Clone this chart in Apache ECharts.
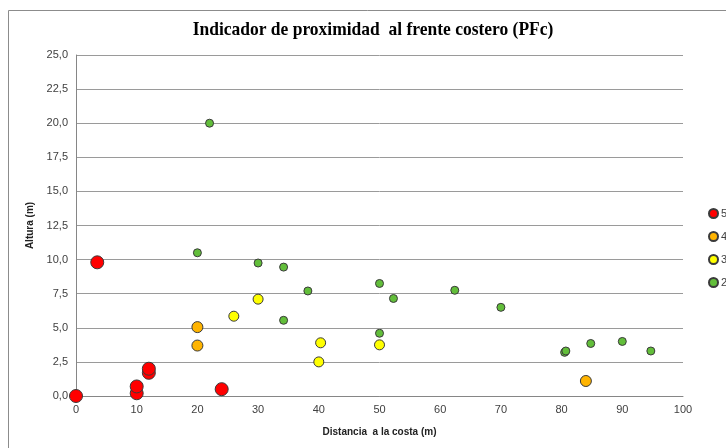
<!DOCTYPE html>
<html>
<head>
<meta charset="utf-8">
<script src="https://cdn.jsdelivr.net/npm/echarts@6/dist/echarts.min.js"></script>
<style>html,body{margin:0;padding:0;background:#fff}#c{width:726px;height:448px}</style>
</head>
<body>
<div id="c"></div>
<script>
var titleText = 'Indicador de proximidad  al frente costero (PFc)';
var xAxisName = 'Distancia  a la costa (m)';
var yAxisName = 'Altura (m)';
var seriesNames = ['5', '4', '3', '2'];
var seriesColors = ['#FF0000', '#FFB400', '#FFFF00', '#62BE3A'];
var seriesSizes = [13, 11, 10, 8];

var s5 = [[0, 0], [3.5, 9.8], [10, 0.2], [10, 0.7], [12, 1.7], [12, 2.0], [24, 0.5]];
var s4 = [[20, 5.05], [20, 3.7], [84, 1.1]];
var s3 = [[26, 5.85], [30, 7.1], [40.3, 3.9], [40, 2.5], [50, 3.75]];
var s2 = [[22, 20.0], [20, 10.5], [30, 9.75], [34.2, 9.45], [38.2, 7.7], [34.2, 5.55],
          [50, 8.25], [52.3, 7.15], [62.4, 7.75], [70, 6.5], [50, 4.6], [80.5, 3.2], [80.7, 3.3],
          [84.8, 3.85], [90, 4.0], [94.7, 3.3]];
var allData = [s5, s4, s3, s2];

var chart = echarts.init(document.getElementById('c'));
var labelFont = 'Liberation Sans, Arial, sans-serif';
chart.setOption({
  backgroundColor: '#fff',
  animation: false,
  graphic: [{
    type: 'rect', silent: true,
    shape: { x: 8.5, y: 10.5, width: 760, height: 480 },
    style: { fill: 'none', stroke: '#8c8c8c', lineWidth: 1 }
  }, {
    type: 'text', silent: true, x: 373, y: 30, scaleX: 0.92,
    style: {
      text: titleText, align: 'center', verticalAlign: 'middle',
      font: 'bold 19px "Liberation Serif", "Times New Roman", serif', fill: '#000'
    }
  }],
  grid: { left: 76, right: 43, top: 55, bottom: 52 },
  legend: {
    orient: 'vertical', left: 703, top: 203, itemGap: 12, itemWidth: 9, itemHeight: 9,
    icon: 'circle',
    textStyle: { fontFamily: labelFont, fontSize: 11, color: '#404040', padding: [0, 0, 0, -2] },
    data: seriesNames
  },
  xAxis: {
    type: 'value', min: 0, max: 100, interval: 10,
    name: xAxisName, nameLocation: 'middle', nameGap: 31,
    nameTextStyle: { fontFamily: labelFont, fontSize: 10, fontWeight: 'bold', color: '#222' },
    axisLine: { show: true, lineStyle: { color: '#868686' } },
    axisTick: { show: false },
    splitLine: { show: false },
    axisLabel: { fontFamily: labelFont, fontSize: 11, color: '#404040', margin: 8 }
  },
  yAxis: {
    type: 'value', min: 0, max: 25, interval: 2.5,
    name: yAxisName, nameLocation: 'middle', nameGap: 34, nameRotate: 90,
    nameTextStyle: { fontFamily: labelFont, fontSize: 10, fontWeight: 'bold', color: '#222' },
    axisLine: { show: true, lineStyle: { color: '#868686' } },
    axisTick: { show: false },
    splitLine: { show: true, lineStyle: { color: '#9a9a9a', width: 1 } },
    axisLabel: {
      fontFamily: labelFont, fontSize: 11, color: '#404040', margin: 8,
      formatter: function (v) { return v.toFixed(1).replace('.', ','); }
    }
  },
  series: seriesNames.map(function (n, i) {
    return {
      name: n, type: 'scatter', data: allData[i], symbolSize: seriesSizes[i],
      itemStyle: { color: seriesColors[i], borderColor: '#3a3a3a', borderWidth: 1, opacity: 1 },
      z: 10 - i
    };
  })
});
</script>
</body>
</html>
